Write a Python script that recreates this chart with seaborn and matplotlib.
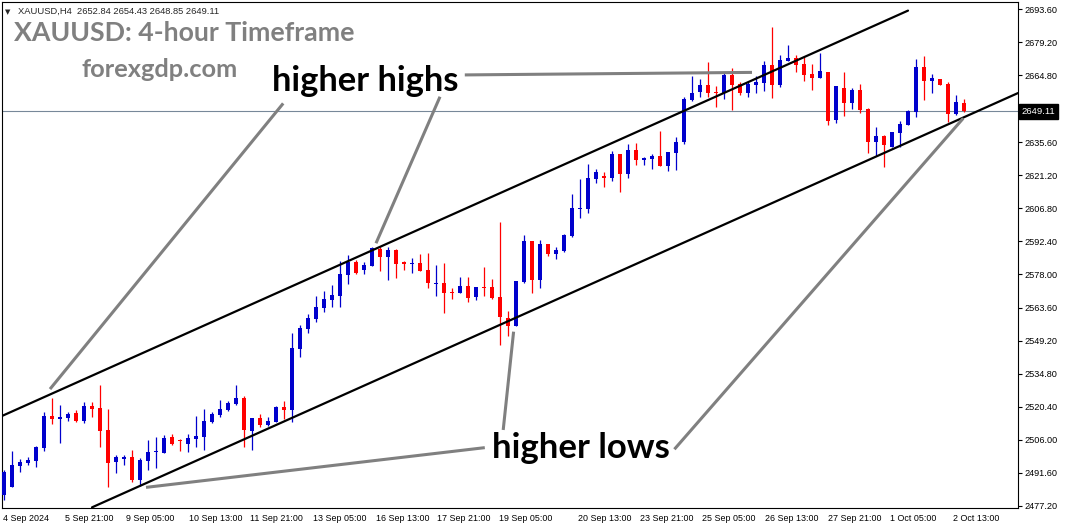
import numpy as np
import pandas as pd
import seaborn as sns
import matplotlib.pyplot as plt
from matplotlib.transforms import blended_transform_factory

# XAUUSD H4 candles (open, high, low, close)
opens = [2482.0, 2485.5, 2494.6, 2496.0, 2496.9, 2502.5, 2516.4, 2515.2, 2515.6, 2517.8,
         2514.3, 2520.7, 2519.9, 2510.3, 2496.5, 2497.8, 2498.5, 2488.5, 2496.9, 2500.6,
         2500.4, 2507.1, 2505.6, 2504.3, 2506.5, 2507.4, 2513.9, 2517.0, 2519.0, 2521.6,
         2524.4, 2510.0, 2515.5, 2512.5, 2513.8, 2520.2, 2519.0, 2545.7, 2554.3, 2558.8,
         2563.5, 2566.9, 2568.6, 2577.9, 2583.6, 2580.0, 2581.8, 2589.1, 2585.7, 2588.7,
         2583.4, 2582.4, 2583.0, 2580.0, 2573.7, 2574.3, 2570.5, 2570.1, 2573.0, 2568.2,
         2572.6, 2572.6, 2568.2, 2559.1, 2555.7, 2574.7, 2592.6, 2575.6, 2591.3, 2586.9,
         2588.2, 2594.8, 2606.7, 2606.5, 2619.6, 2620.9, 2620.0, 2630.5, 2621.8, 2632.2,
         2627.9, 2628.4, 2629.6, 2625.2, 2630.9, 2635.8, 2654.0, 2657.5, 2660.5, 2657.6,
         2657.2, 2664.9, 2660.8, 2657.2, 2660.6, 2661.3, 2669.2, 2660.5, 2671.1, 2672.3,
         2669.7, 2665.3, 2663.7, 2666.3, 2645.3, 2659.2, 2652.8, 2658.3, 2650.2, 2635.8,
         2638.3, 2633.6, 2639.7, 2643.2, 2648.9, 2668.4, 2662.4, 2663.1, 2660.9, 2648.0,
         2652.84]
highs = [2492.9, 2501.1, 2497.8, 2498.4, 2503.3, 2518.3, 2524.1, 2521.2, 2518.1, 2519.0,
         2522.6, 2522.5, 2529.9, 2519.3, 2499.3, 2499.4, 2501.6, 2498.0, 2505.9, 2507.4,
         2508.1, 2508.5, 2506.2, 2508.5, 2516.4, 2519.6, 2518.0, 2523.4, 2522.8, 2530.0,
         2525.2, 2515.5, 2517.4, 2516.1, 2520.9, 2522.9, 2552.7, 2556.0, 2560.7, 2568.6,
         2570.9, 2573.4, 2584.0, 2586.5, 2584.3, 2583.4, 2590.1, 2590.1, 2589.8, 2589.0,
         2584.0, 2585.3, 2587.1, 2587.4, 2582.1, 2583.1, 2572.0, 2576.9, 2576.9, 2572.6,
         2581.4, 2576.0, 2601.0, 2562.2, 2575.2, 2595.3, 2592.6, 2593.0, 2591.3, 2590.1,
         2595.6, 2613.1, 2619.6, 2626.1, 2623.9, 2622.6, 2631.8, 2630.5, 2634.8, 2635.3,
         2629.2, 2630.5, 2640.5, 2631.3, 2637.9, 2655.4, 2664.4, 2663.1, 2670.5, 2660.1,
         2665.6, 2667.9, 2661.8, 2661.9, 2664.4, 2671.0, 2685.9, 2673.7, 2678.1, 2673.6,
         2673.3, 2669.7, 2674.6, 2666.3, 2660.1, 2666.2, 2659.2, 2660.9, 2650.5, 2642.4,
         2638.7, 2640.0, 2645.0, 2649.6, 2671.8, 2673.3, 2665.3, 2663.1, 2661.8, 2656.2,
         2654.43]
lows = [2479.8, 2485.3, 2492.1, 2495.2, 2494.3, 2501.3, 2512.9, 2504.8, 2514.3, 2513.9,
        2513.5, 2515.9, 2503.0, 2485.6, 2491.4, 2495.2, 2487.8, 2485.9, 2492.9, 2493.9,
        2500.1, 2503.6, 2501.3, 2500.8, 2502.8, 2501.6, 2513.2, 2515.8, 2518.7, 2521.3,
        2502.8, 2501.6, 2511.7, 2512.0, 2513.6, 2515.1, 2513.6, 2542.2, 2552.7, 2557.2,
        2561.8, 2563.7, 2564.0, 2573.7, 2578.1, 2578.1, 2581.8, 2579.7, 2575.6, 2576.5,
        2580.0, 2578.8, 2579.5, 2572.0, 2568.8, 2561.4, 2567.3, 2570.1, 2565.9, 2567.0,
        2568.8, 2567.3, 2547.3, 2551.4, 2555.7, 2574.4, 2570.1, 2572.3, 2586.1, 2584.9,
        2587.8, 2594.5, 2602.6, 2604.9, 2617.8, 2616.1, 2618.7, 2613.9, 2620.0, 2625.7,
        2625.8, 2623.9, 2625.2, 2622.9, 2623.5, 2634.7, 2653.4, 2655.4, 2655.4, 2650.9,
        2654.3, 2649.6, 2656.3, 2655.4, 2657.2, 2657.9, 2654.9, 2659.8, 2670.8, 2666.3,
        2662.3, 2658.3, 2663.7, 2643.2, 2643.8, 2647.0, 2650.1, 2648.5, 2631.0, 2629.6,
        2624.9, 2633.6, 2633.6, 2643.0, 2646.6, 2654.0, 2657.0, 2660.6, 2644.5, 2647.3,
        2648.85]
closes = [2492.1, 2495.1, 2496.4, 2497.2, 2503.0, 2516.4, 2515.2, 2515.9, 2517.4, 2514.2,
          2520.7, 2519.6, 2510.0, 2496.0, 2498.5, 2498.4, 2488.5, 2497.2, 2500.7, 2500.8,
          2506.8, 2504.3, 2505.4, 2506.8, 2507.7, 2514.2, 2517.4, 2519.6, 2522.2, 2524.4,
          2510.3, 2515.5, 2512.3, 2514.2, 2520.3, 2519.0, 2546.1, 2554.8, 2559.1, 2563.8,
          2567.5, 2569.1, 2578.2, 2583.6, 2578.5, 2582.1, 2589.7, 2585.7, 2588.7, 2582.7,
          2582.7, 2583.0, 2579.5, 2574.2, 2574.4, 2570.1, 2569.9, 2573.0, 2567.9, 2572.6,
          2572.3, 2567.9, 2559.6, 2555.7, 2575.2, 2592.7, 2575.6, 2591.3, 2586.9, 2588.7,
          2595.2, 2607.0, 2607.0, 2620.0, 2622.6, 2620.0, 2630.5, 2621.8, 2632.2, 2627.9,
          2628.7, 2629.6, 2625.2, 2631.3, 2635.7, 2654.4, 2657.2, 2660.5, 2657.2, 2656.9,
          2664.9, 2660.5, 2657.2, 2660.9, 2661.8, 2669.2, 2660.6, 2671.4, 2672.3, 2669.4,
          2665.0, 2663.6, 2666.6, 2645.0, 2660.1, 2652.8, 2658.3, 2649.6, 2635.8, 2638.3,
          2634.5, 2640.0, 2643.5, 2649.3, 2668.4, 2662.4, 2663.6, 2660.6, 2648.0, 2653.1,
          2649.11]

last_price = 2649.11
header = "XAUUSD,H4  2652.84 2654.43 2648.85 2649.11"

# time axis labels (positions in bar numbers)
time_ticks = [-0.15, 7.6, 15.3, 23.1, 30.8, 38.6, 46.5, 54.1, 61.9, 71.75,
              79.5, 87.3, 95.1, 103.0, 110.7, 118.6]
time_labels = ["4 Sep 2024", "5 Sep 21:00", "9 Sep 05:00", "10 Sep 13:00", "11 Sep 21:00",
               "13 Sep 05:00", "16 Sep 13:00", "17 Sep 21:00", "19 Sep 05:00", "20 Sep 13:00",
               "23 Sep 21:00", "25 Sep 05:00", "26 Sep 13:00", "27 Sep 21:00", "1 Oct 05:00",
               "2 Oct 13:00"]
# price scale (the 2650.00 level sits under the last price tag)
price_ticks = [2477.20, 2491.60, 2506.00, 2520.40, 2534.80, 2549.20, 2563.60, 2578.00,
               2592.40, 2606.80, 2621.20, 2635.60, 2664.80, 2679.20, 2693.60]

# channel lines (bar, price)
upper_x = [-0.25, 113.0]
upper_y = [2516.4, 2692.9]
lower_x = [11.0, 126.75]
lower_y = [2476.6, 2657.0]

# pointers from the captions to the swing points (bar, price)
hh_pointers = [([34.9, 5.75], [2652.5, 2528.1]),
               ([54.5, 46.5], [2655.4, 2591.6]),
               ([57.6, 93.5], [2664.9, 2666.0])]
hl_pointers = [([60.1, 17.75], [2502.6, 2485.3]),
               ([62.4, 63.7], [2510.3, 2553.1]),
               ([83.8, 119.9], [2501.9, 2646.0])]

df = pd.DataFrame({"open": opens, "high": highs, "low": lows, "close": closes})
df["bar"] = np.arange(len(df))
df["up"] = df["close"] > df["open"]
df["color"] = np.where(df["up"], "#0000CC", "#FF0000")

sns.set_style("white")
plt.rcParams["font.family"] = ["Liberation Sans", "DejaVu Sans"]

W, H = 1065, 528
fig = plt.figure(figsize=(W / 100, H / 100), dpi=100)
ax = fig.add_axes([2 / W, 20 / H, 1016 / W, 506 / H])

# wicks and bodies
ax.vlines(df["bar"], df["low"], df["high"], colors=df["color"], linewidth=0.9, zorder=3)
body_lo = df[["open", "close"]].min(axis=1)
body_h = (df["close"] - df["open"]).abs().clip(lower=0.45)
ax.bar(df["bar"], body_h, bottom=body_lo, width=0.62, color=df["color"],
       linewidth=0, zorder=4)

# current price line
ax.axhline(last_price, color="#778899", linewidth=0.8, zorder=2)

# channel
sns.lineplot(x=upper_x, y=upper_y, ax=ax, color="black", linewidth=1.6,
             estimator=None, sort=False, zorder=5)
sns.lineplot(x=lower_x, y=lower_y, ax=ax, color="black", linewidth=1.6,
             estimator=None, sort=False, zorder=5)

for xs, ys in hh_pointers + hl_pointers:
    ax.plot(xs, ys, color="#808080", linewidth=2.2, solid_capstyle="butt", zorder=6)

ax.set_xlim(-0.25, 126.75)
ax.set_ylim(2476.32, 2696.65)

ax.yaxis.tick_right()
ax.set_yticks(price_ticks)
ax.set_yticklabels([f"{p:.2f}" for p in price_ticks])
ax.tick_params(axis="y", direction="out", length=3, width=0.8, pad=2,
               labelsize=6.6, colors="black")
ax.set_xticks(time_ticks)
ax.set_xticklabels(time_labels)
for lab in ax.get_xticklabels():
    lab.set_horizontalalignment("left")
ax.tick_params(axis="x", direction="out", length=3.5, width=0.8, pad=1,
               labelsize=6.4, colors="black")
for sp in ax.spines.values():
    sp.set_color("black")
    sp.set_linewidth(0.8)
ax.set_xlabel("")
ax.set_ylabel("")

# last price tag on the price scale
tr = blended_transform_factory(ax.transAxes, ax.transData)
ax.text(1.0035, last_price, f"{last_price:.2f}", transform=tr, ha="left", va="center",
        fontsize=6.8, color="white", clip_on=False,
        bbox=dict(boxstyle="square,pad=0.3", facecolor="black", edgecolor="black"))


def fx(x, y):
    return x / W, 1 - y / H


fig.text(*fx(5, 13.7), "\u25BC", fontsize=5, family=["DejaVu Sans"], va="baseline")
fig.text(*fx(18.3, 13.7), header, fontsize=6.75, va="baseline")
fig.text(*fx(14, 40.7), "XAUUSD: 4-hour Timeframe", fontsize=19.3, family=["Lato", "DejaVu Sans"],
         fontweight="bold", color="#808080", va="baseline")
fig.text(*fx(82, 77.3), "forexgdp.com", fontsize=18.3, family=["Lato", "DejaVu Sans"],
         fontweight="bold", color="#808080", va="baseline")
fig.text(*fx(272, 91), "higher highs", fontsize=24.8, family=["Lato", "DejaVu Sans"],
         fontweight="bold", color="black", va="baseline")
fig.text(*fx(491.7, 458.3), "higher lows", fontsize=25, family=["Lato", "DejaVu Sans"],
         fontweight="bold", color="black", va="baseline")

fig.savefig("out.png", dpi=100)
